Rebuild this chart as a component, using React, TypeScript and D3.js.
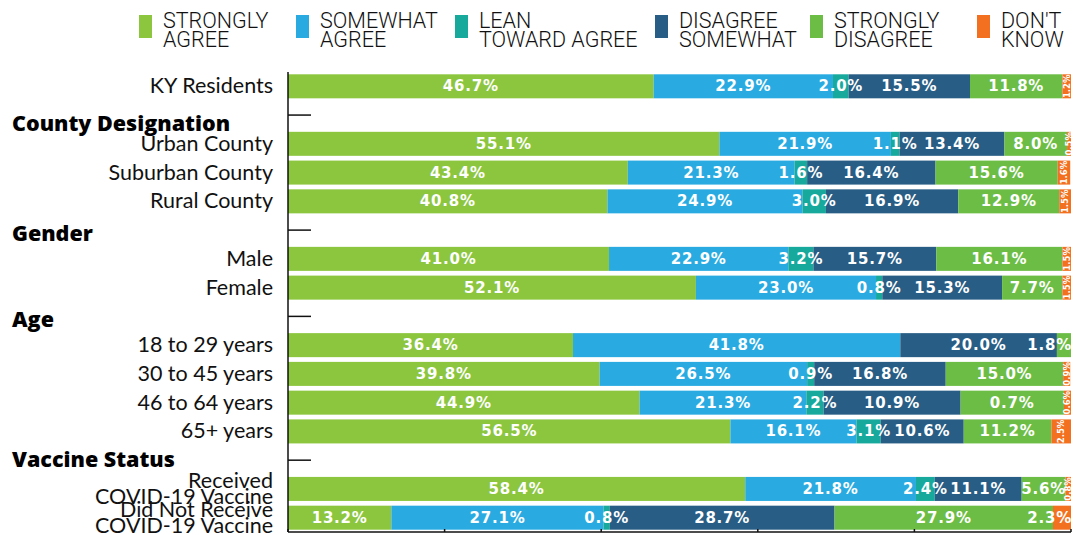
import React from 'react';
import * as d3 from 'd3';

const rows = [
  'KY Residents',
  'County Designation',
  'Urban County',
  'Suburban County',
  'Rural County',
  'Gender',
  'Male',
  'Female',
  'Age',
  '18 to 29 years',
  '30 to 45 years',
  '46 to 64 years',
  '65+ years',
  'Vaccine Status',
  'Received\nCOVID-19 Vaccine',
  'Did Not Receive\nCOVID-19 Vaccine',
];
const headers = ['County Designation', 'Gender', 'Age', 'Vaccine Status'];
const barRows = rows.filter(r => !headers.includes(r));

const seriesNames = ['STRONGLY\nAGREE', 'SOMEWHAT\nAGREE', 'LEAN\nTOWARD AGREE', 'DISAGREE\nSOMEWHAT', 'STRONGLY\nDISAGREE', "DON'T\nKNOW"];
const colors = ['#8cc63f', '#29abe2', '#16a99c', '#285d85', '#6cbd45', '#f37021'];

const stronglyAgree = [46.7, 55.1, 43.4, 40.8, 41.0, 52.1, 36.4, 39.8, 44.9, 56.5, 58.4, 13.2];
const somewhatAgree = [22.9, 21.9, 21.3, 24.9, 22.9, 23.0, 41.8, 26.5, 21.3, 16.1, 21.8, 27.1];
const leanAgree = [2.0, 1.1, 1.6, 3.0, 3.2, 0.8, 0, 0.9, 2.2, 3.1, 2.4, 0.8];
const disagreeSomewhat = [15.5, 13.4, 16.4, 16.9, 15.7, 15.3, 20.0, 16.8, 17.5, 10.6, 11.1, 28.7];
const stronglyDisagree = [11.8, 8.0, 15.6, 12.9, 16.1, 7.7, 1.8, 15.0, 13.2, 11.2, 5.6, 27.9];
const dontKnow = [1.2, 0.5, 1.6, 1.5, 1.5, 1.5, 0, 0.9, 1.0, 2.5, 0.8, 2.3];

// labels printed on the original that differ from the drawn widths
const labelOverrides: Record<string, (string | null)[]> = {
  '46 to 64 years': [null, null, null, '10.9%', '0.7%', '0.6%'],
};

const series = [stronglyAgree, somewhatAgree, leanAgree, disagreeSomewhat, stronglyDisagree, dontKnow];

const width = 1075;
const height = 535;
const margin = { top: 72, right: 4, bottom: 3, left: 288 };

const fmt = (v: number) => v.toFixed(1) + '%';

export default function App() {
  const x = d3.scaleLinear().domain([0, 100]).range([margin.left, width - margin.right]).clamp(true);
  const y = d3.scaleBand().domain(rows).range([margin.top, height - margin.bottom]).paddingInner(0.165).paddingOuter(0.08);

  const table = barRows.map((r, i) => {
    const o: any = { row: r };
    series.forEach((s, k) => (o['k' + k] = s[i]));
    return o;
  });
  const stack = d3.stack().keys(series.map((_, k) => 'k' + k))(table);

  const legendX = [139, 296, 455, 655, 810, 977];

  return (
    <svg width={width} height={height} style={{ position: 'absolute', left: 0, top: 0 }}>
      {/* legend */}
      {seriesNames.map((n, k) => (
        <g key={n} transform={`translate(${legendX[k]},0)`}>
          <rect x={0} y={15} width={13} height={23} fill={colors[k]} />
          <text x={24} y={28} fontFamily="Roboto" fontWeight={300} fontSize={21.5} fill="#111">
            {n.split('\n').map((l, j) => (
              <tspan key={j} x={24} dy={j ? 19 : 0}>{l}</tspan>
            ))}
          </text>
        </g>
      ))}

      {/* bars */}
      {stack.map((layer, k) => (
        <g key={k} fill={colors[k]}>
          {layer.map((d: any) => {
            const r = d.data.row;
            const w = x(d[1]) - x(d[0]);
            if (w <= 0) return null;
            return <rect key={r} x={x(d[0])} y={y(r)} width={w} height={y.bandwidth()} />;
          })}
        </g>
      ))}

      {/* value labels */}
      {stack.map((layer, k) => (
        <g key={'l' + k} fill="#fff" fontFamily="DejaVu Sans" fontWeight="bold">
          {layer.map((d: any, i: number) => {
            const r = d.data.row;
            const v = d[1] - d[0];
            if (v <= 0) return null;
            const ov = labelOverrides[r];
            const txt = ov && ov[k] ? ov[k] : fmt(v);
            const x0 = x(d[0]);
            const x1 = x(d[1]);
            const cy = (y(r) as number) + y.bandwidth() / 2;
            const lastRow = i === barRows.length - 1;
            if (k === 5 && !lastRow) {
              return (
                <text key={r} transform={`translate(${(x0 + x1) / 2 + 3},${cy}) rotate(-90)`} textAnchor="middle" fontSize={8.5}>
                  {txt}
                </text>
              );
            }
            const isEnd = d[1] >= 99.9 && v < 3;
            return (
              <text
                key={r}
                x={isEnd ? x(100) + 1 : (x0 + x1) / 2}
                y={cy + 5}
                textAnchor={isEnd ? 'end' : 'middle'}
                fontSize={15}
                letterSpacing={0.8}
              >
                {txt}
              </text>
            );
          })}
        </g>
      ))}

      {/* axes */}
      <g stroke="#111" strokeWidth={1.5}>
        <line x1={margin.left} x2={margin.left} y1={margin.top} y2={height - margin.bottom} />
        <line x1={margin.left} x2={x(100)} y1={height - margin.bottom} y2={height - margin.bottom} />
        {headers.map(h => {
          const ty = (y(h) as number) + y.bandwidth() / 2;
          return <line key={h} x1={margin.left} x2={margin.left + 23} y1={ty} y2={ty} />;
        })}
        {x.ticks(5).map(t => (
          <line key={t} x1={x(t)} x2={x(t)} y1={height - margin.bottom} y2={height - margin.bottom - 3} />
        ))}
      </g>

      {/* row labels */}
      {rows.map(r => {
        const cy = (y(r) as number) + y.bandwidth() / 2;
        if (headers.includes(r)) {
          const dy = r === 'County Designation' ? 16 : r === 'Vaccine Status' ? 7 : 11;
          return (
            <text key={r} x={12} y={cy + dy} fontFamily="Open Sans" fontWeight={800} fontSize={21.5} fill="#000">
              {r}
            </text>
          );
        }
        const lines = r.split('\n');
        return (
          <text key={r} x={margin.left - 15} y={cy} textAnchor="end" fontFamily="Lato" fontSize={21.5} fill="#111">
            {lines.map((l, j) => (
              <tspan key={j} x={margin.left - 15} dy={lines.length === 1 ? 7 : j === 0 ? -1 : 16}>
                {l}
              </tspan>
            ))}
          </text>
        );
      })}
    </svg>
  );
}
